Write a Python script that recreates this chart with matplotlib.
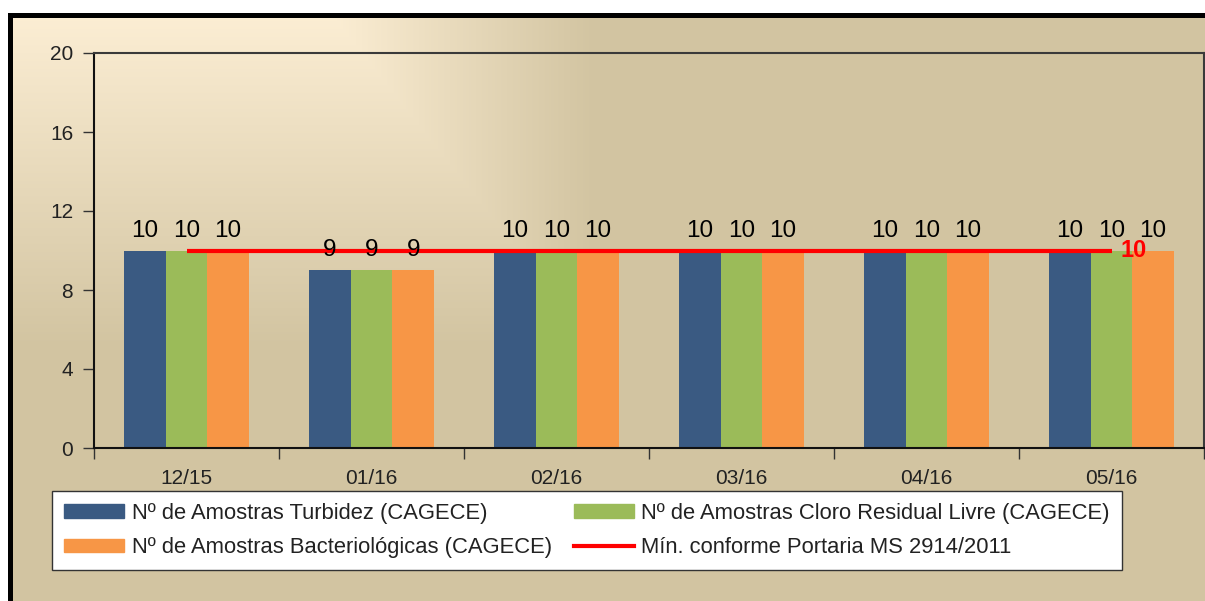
import numpy as np
import matplotlib.pyplot as plt
from matplotlib.patches import Patch
from matplotlib.lines import Line2D

plt.rcParams['font.family'] = ['Liberation Sans', 'DejaVu Sans']

# Data
months = ['12/15', '01/16', '02/16', '03/16', '04/16', '05/16']
turbidez = [10, 9, 10, 10, 10, 10]
cloro = [10, 9, 10, 10, 10, 10]
bacterio = [10, 9, 10, 10, 10, 10]
minimo = [10, 10, 10, 10, 10, 10]

labels = ['Nº de Amostras Turbidez (CAGECE)',
          'Nº de Amostras Cloro Residual Livre (CAGECE)',
          'Nº de Amostras Bacteriológicas (CAGECE)',
          'Mín. conforme Portaria MS 2914/2011']
colors = ['#3A5A82', '#9BBB59', '#F79646']
red = '#FF0000'

W, H = 1205, 601
fig = plt.figure(figsize=(W / 100, H / 100), dpi=100, facecolor='white')

# background: rectangular gradient from the top-left, white margin and black frame
bg = fig.add_axes([0, 0, 1, 1], zorder=-5)
yy, xx = np.mgrid[0:H, 0:W]
t = np.clip(np.maximum((xx - 330) / 265.0, (yy - 13) / 334.0), 0, 1)[..., None]
light = np.array([252, 238, 212]) / 255.0
tan = np.array([210, 196, 161]) / 255.0
img = light * (1 - t) + tan * t
img[yy < 13] = 1.0
img[xx < 8] = 1.0
frame = ((yy >= 13) & (yy < 18) & (xx >= 8)) | ((xx >= 8) & (xx < 13) & (yy >= 13))
img[frame] = 0.0
bg.imshow(img, extent=[0, W, H, 0], interpolation='nearest', aspect='auto')
bg.set_xlim(0, W)
bg.set_ylim(H, 0)
bg.axis('off')

# main plot area
ax = fig.add_axes([94 / W, 1 - 448 / H, 1110 / W, 395 / H])
ax.set_facecolor('none')

x = np.arange(len(months))
bw = 0.225
series = [turbidez, cloro, bacterio]
for i, (vals, c) in enumerate(zip(series, colors)):
    xs = x + (i - 1) * bw
    ax.bar(xs, vals, bw, color=c, zorder=2)
    for xi, v in zip(xs, vals):
        ax.annotate(f'{v}', (xi, v), xytext=(0, 10), textcoords='offset points',
                    ha='center', va='baseline', fontsize=17.5, color='black', zorder=5)

ax.plot(x, minimo, color=red, lw=3, zorder=3, solid_capstyle='butt')
ax.annotate(f'{minimo[-1]}', (x[-1], minimo[-1]), xytext=(6.5, 0), textcoords='offset points',
            ha='left', va='center', fontsize=17, fontweight='bold', color=red, zorder=5)

ax.set_ylim(0, 20)
ax.set_yticks(range(0, 21, 4))
ax.set_xlim(-0.5, len(months) - 0.5)
ax.set_xticks(np.arange(-0.5, len(months), 1.0))
ax.set_xticklabels([])
ax.set_xticks(x, minor=True)
ax.set_xticklabels(months, minor=True)
ax.tick_params(axis='x', which='major', length=8, width=1, color='#333333')
ax.tick_params(axis='x', which='minor', length=0, pad=15, labelsize=15, labelcolor='#222222')
ax.tick_params(axis='y', length=8, width=1, pad=7, labelsize=15, labelcolor='#222222', color='#333333')

for s in ['top', 'right']:
    ax.spines[s].set_color('#3a3a3a')
    ax.spines[s].set_linewidth(1.5)
for s in ['left', 'bottom']:
    ax.spines[s].set_color('#111111')
    ax.spines[s].set_linewidth(1.5)

handles = [Patch(color=colors[0]), Patch(color=colors[2]),
           Patch(color=colors[1]), Line2D([], [], color=red, lw=3)]
leg_labels = [labels[0], labels[2], labels[1], labels[3]]
leg = fig.legend(handles, leg_labels, ncol=2, loc='upper left',
                 bbox_to_anchor=(52 / W, 1 - 491 / H), borderaxespad=0,
                 fontsize=15.8, frameon=True, fancybox=False, handlelength=2.75,
                 handleheight=0.6, handletextpad=0.33, columnspacing=1.0,
                 labelspacing=0.6, borderpad=0.55)
leg.get_frame().set_facecolor('white')
leg.get_frame().set_edgecolor('#333333')
leg.get_frame().set_linewidth(1)
leg.get_frame().set_alpha(1)
for txt in leg.get_texts():
    txt.set_color('#222222')

fig.savefig('out.png', dpi=100)
